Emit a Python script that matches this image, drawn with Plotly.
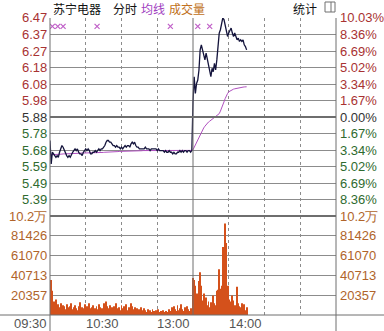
import plotly.graph_objects as go

# ---------------- data ----------------
prev_close = 5.88
price_labels = ["6.47", "6.37", "6.27", "6.18", "6.08", "5.98", "5.88",
                "5.78", "5.68", "5.59", "5.49", "5.39"]
pct_labels = ["10.03%", "8.36%", "6.69%", "5.02%", "3.34%", "1.67%", "0.00%",
              "1.67%", "3.34%", "5.02%", "6.69%", "8.36%"]
price_levels = [6.4698, 6.3715, 6.2732, 6.1749, 6.0766, 5.9783, 5.88,
                5.7817, 5.6834, 5.5851, 5.4868, 5.3885, 5.2902]
vol_ticks = [20357, 40713, 61070, 81426, 101783]
vol_labels = ["20357", "40713", "61070", "81426", "10.2万"]
time_ticks = [0, 60, 120, 180]
time_labels = ["09:30", "10:30", "13:00", "14:00"]

price_am = [5.74, 5.60, 5.67, 5.66, 5.65, 5.64, 5.65, 5.64, 5.67, 5.69,
            5.71, 5.70, 5.68, 5.66, 5.65, 5.64, 5.65, 5.64, 5.66, 5.67,
            5.68, 5.69, 5.68, 5.69, 5.67, 5.66, 5.66, 5.65, 5.67, 5.68,
            5.69, 5.68, 5.69, 5.68, 5.66, 5.66, 5.67, 5.67, 5.68, 5.67,
            5.68, 5.69, 5.68, 5.69, 5.69, 5.70, 5.71, 5.73, 5.74, 5.74,
            5.73, 5.73, 5.72, 5.71, 5.71, 5.70, 5.71, 5.70, 5.70, 5.69,
            5.70, 5.69, 5.70, 5.71, 5.70, 5.71, 5.71, 5.70, 5.72, 5.73,
            5.72, 5.73, 5.71, 5.70, 5.70, 5.69, 5.69, 5.69, 5.69, 5.69,
            5.70, 5.69, 5.69, 5.69, 5.68, 5.69, 5.69, 5.69, 5.69, 5.69,
            5.68, 5.69, 5.68, 5.68, 5.68, 5.68, 5.67, 5.68, 5.67, 5.67,
            5.68, 5.67, 5.67, 5.66, 5.67, 5.66, 5.66, 5.67, 5.67, 5.68,
            5.67, 5.68, 5.67, 5.68, 5.68, 5.67, 5.68, 5.68, 5.67, 5.68]
price_pm = [5.97, 6.12, 6.02, 6.08, 6.10, 6.16, 6.28, 6.31, 6.28, 6.25,
            6.22, 6.26, 6.22, 6.20, 6.16, 6.12, 6.17, 6.15, 6.20, 6.16,
            6.22, 6.33, 6.38, 6.40, 6.45, 6.47, 6.46, 6.42, 6.38, 6.36,
            6.38, 6.40, 6.41, 6.38, 6.36, 6.38, 6.36, 6.34, 6.35, 6.33,
            6.34, 6.33, 6.34, 6.31, 6.30, 6.28]
avg_am = [5.655, 5.655, 5.656, 5.656, 5.657, 5.657, 5.658, 5.658, 5.658, 5.659,
          5.659, 5.660, 5.660, 5.660, 5.661, 5.661, 5.661, 5.662, 5.662, 5.662,
          5.663, 5.663, 5.663, 5.664, 5.664, 5.664, 5.665, 5.665, 5.665, 5.665,
          5.666, 5.666, 5.666, 5.666, 5.667, 5.667, 5.667, 5.667, 5.668, 5.668,
          5.668, 5.668, 5.669, 5.669, 5.669, 5.669, 5.670, 5.670, 5.671, 5.671,
          5.672, 5.672, 5.673, 5.673, 5.673, 5.674, 5.674, 5.674, 5.675, 5.675,
          5.675, 5.675, 5.676, 5.676, 5.676, 5.676, 5.677, 5.677, 5.677, 5.678,
          5.678, 5.678, 5.678, 5.679, 5.679, 5.679, 5.679, 5.679, 5.680, 5.680,
          5.680, 5.680, 5.680, 5.680, 5.680, 5.681, 5.681, 5.681, 5.681, 5.681,
          5.681, 5.681, 5.681, 5.681, 5.681, 5.681, 5.681, 5.681, 5.681, 5.681,
          5.681, 5.681, 5.681, 5.681, 5.681, 5.681, 5.681, 5.681, 5.681, 5.681,
          5.681, 5.681, 5.681, 5.681, 5.681, 5.681, 5.681, 5.681, 5.681, 5.681]
avg_pm = [5.685, 5.700, 5.720, 5.735, 5.750, 5.765, 5.780, 5.795, 5.805, 5.815,
          5.825, 5.835, 5.845, 5.850, 5.855, 5.860, 5.865, 5.870, 5.875, 5.880,
          5.885, 5.890, 5.900, 5.915, 5.930, 5.950, 5.970, 5.990, 6.010, 6.020,
          6.030, 6.035, 6.040, 6.043, 6.046, 6.048, 6.050, 6.052, 6.054, 6.055,
          6.056, 6.057, 6.058, 6.059, 6.060, 6.060]
vol_am = [33000, 36000, 25000, 14000, 12000, 16000, 9000, 11000, 8000, 12000,
          7000, 10000, 9000, 6000, 11000, 8000, 7000, 9000, 12000, 6000,
          8000, 10000, 7000, 5000, 9000, 13000, 6000, 8000, 7000, 11000,
          5000, 9000, 6000, 12000, 7000, 8000, 10000, 5000, 7000, 9000,
          6000, 11000, 8000, 5000, 7000, 12000, 6000, 14000, 9000, 7000,
          10000, 6000, 8000, 5000, 9000, 12000, 7000, 6000, 8000, 5000,
          10000, 7000, 9000, 6000, 11000, 5000, 8000, 7000, 12000, 9000,
          6000, 8000, 5000, 7000, 4000, 6000, 8000, 5000, 4000, 7000,
          5000, 3000, 6000, 4000, 5000, 3000, 6000, 4000, 3000, 5000,
          4000, 6000, 3000, 4000, 2000, 5000, 3000, 4000, 2000, 3000,
          6000, 4000, 8000, 5000, 9000, 6000, 4000, 10000, 5000, 7000,
          11000, 6000, 4000, 8000, 5000, 9000, 6000, 4000, 7000, 5000]
vol_pm = [38000, 36000, 30000, 22000, 18000, 35000, 44000, 30000, 15000, 22000,
          12000, 18000, 10000, 14000, 8000, 13000, 9000, 20000, 12000, 10000,
          25000, 26000, 47000, 27000, 30000, 70000, 20000, 94000, 74000, 30000,
          16000, 14000, 12000, 20000, 15000, 10000, 7000, 29000, 12000, 9000,
          8000, 12000, 6000, 11000, 5000, 8000]
mark_minutes = [2, 6.5, 11, 39.5, 101, 124, 134]
mark_level = 6.42

price = price_am + price_pm
avg = avg_am + avg_pm
vol = vol_am + vol_pm
minutes = list(range(len(price)))

# ---------------- geometry helpers ----------------
W, H = 384, 331
def px(x):
    return x / W
def py(y):
    return 1 - y / H

X0, X1 = 50, 336
P_TOP, P_BOT, V_BOT = 18, 216, 315

fig = go.Figure()
fig.add_trace(go.Bar(x=minutes, y=vol, marker=dict(color="#D4511B", line=dict(width=0)),
                     xaxis="x", yaxis="y2", hoverinfo="skip"))
fig.add_trace(go.Scatter(x=minutes, y=avg, mode="lines",
                         line=dict(color="#B050C0", width=1), xaxis="x", yaxis="y"))
fig.add_trace(go.Scatter(x=minutes, y=price, mode="lines",
                         line=dict(color="#14143C", width=1.3), xaxis="x", yaxis="y"))
fig.add_trace(go.Scatter(x=mark_minutes, y=[mark_level] * len(mark_minutes), mode="markers",
                         marker=dict(symbol="x-thin", size=5, line=dict(color="#C060C8", width=1.2)),
                         xaxis="x", yaxis="y"))

grid = "#8C8C8C"
fig.update_layout(
    width=W, height=H, margin=dict(l=0, r=0, t=0, b=0),
    paper_bgcolor="white", plot_bgcolor="white", showlegend=False, bargap=0.2,
    xaxis=dict(domain=[px(X0), px(X1)], range=[0, 240], tickvals=[30, 60, 90, 150, 180, 210],
               showticklabels=False, showgrid=True, gridcolor=grid, griddash="dot", gridwidth=1,
               zeroline=False, showline=False, ticks="", anchor="y2"),
    yaxis=dict(domain=[py(P_BOT), py(P_TOP)], range=[price_levels[-1], price_levels[0]],
               tickvals=price_levels, showticklabels=False, showgrid=True, gridcolor=grid,
               gridwidth=1, zeroline=False, showline=False, ticks=""),
    yaxis2=dict(domain=[py(V_BOT), py(P_BOT)], range=[0, vol_ticks[-1]],
                tickvals=vol_ticks[:-1], showticklabels=False, showgrid=True, gridcolor=grid,
                gridwidth=1, zeroline=False, showline=False, ticks=""),
)

shapes = []
shapes.append(dict(type="line", xref="paper", yref="y", x0=px(X0), x1=px(X1), y0=prev_close, y1=prev_close,
                   line=dict(color="#6E6E6E", width=2)))
shapes.append(dict(type="line", xref="paper", yref="paper", x0=px(X0), x1=px(X1), y0=py(P_BOT), y1=py(P_BOT),
                   line=dict(color="#6E6E6E", width=2)))
shapes.append(dict(type="line", xref="paper", yref="paper", x0=0, x1=1, y0=py(V_BOT), y1=py(V_BOT),
                   line=dict(color="#6E6E6E", width=1)))
for xx in (X0, X1):
    shapes.append(dict(type="line", xref="paper", yref="paper", x0=px(xx), x1=px(xx), y0=py(P_TOP), y1=0,
                       line=dict(color="#6E6E6E", width=1)))
shapes.append(dict(type="line", xref="x", yref="paper", x0=120, x1=120, y0=py(V_BOT), y1=py(P_TOP),
                   line=dict(color="#6E6E6E", width=1)))
shapes.append(dict(type="rect", xref="paper", yref="paper", x0=px(325), x1=px(335), y0=py(12), y1=py(2),
                   line=dict(color="#707070", width=1)))
shapes.append(dict(type="line", xref="paper", yref="paper", x0=px(331), x1=px(331), y0=py(12), y1=py(2),
                   line=dict(color="#707070", width=1)))
fig.update_layout(shapes=shapes)

ann = []
num_font = "Liberation Sans"
red, green, neutral, orange = "#A83232", "#2F6B2F", "#333333", "#B0642A"
for i, lab in enumerate(price_labels):
    col = red if i < 6 else (neutral if i == 6 else green)
    ann.append(dict(xref="paper", yref="y", x=px(49), y=price_levels[i], text=lab, showarrow=False,
                    xanchor="right", yanchor="middle", font=dict(family=num_font, size=13, color=col)))
    ann.append(dict(xref="paper", yref="y", x=px(338), y=price_levels[i], text=pct_labels[i], showarrow=False,
                    xanchor="left", yanchor="middle", font=dict(family=num_font, size=13, color=col)))
for v, lab in zip(vol_ticks, vol_labels):
    for xx, anc in ((49, "right"), (338, "left")):
        ann.append(dict(xref="paper", yref="y2", x=px(xx), y=v, text=lab, showarrow=False,
                        xanchor=anc, yanchor="middle", font=dict(family=num_font, size=13, color=orange)))
for t, lab in zip(time_ticks, time_labels):
    ann.append(dict(xref="x", yref="paper", x=t, y=py(323), text=lab, showarrow=False, xshift=-1,
                    xanchor="right", yanchor="middle", font=dict(family=num_font, size=13, color="#555555")))
cjk = "Noto Sans CJK SC"
for x, lab, col in ((51, "苏宁电器", "#111111"), (111, "分时", "#111111"), (139, "均线", "#A040C0"),
                    (167, "成交量", "#C07020"), (291, "统计", "#111111")):
    ann.append(dict(xref="paper", yref="paper", x=px(x), y=py(8), text=lab, showarrow=False,
                    xanchor="left", yanchor="middle", font=dict(family=cjk, size=12, color=col)))
fig.update_layout(annotations=ann)

fig.write_html("out.html")
